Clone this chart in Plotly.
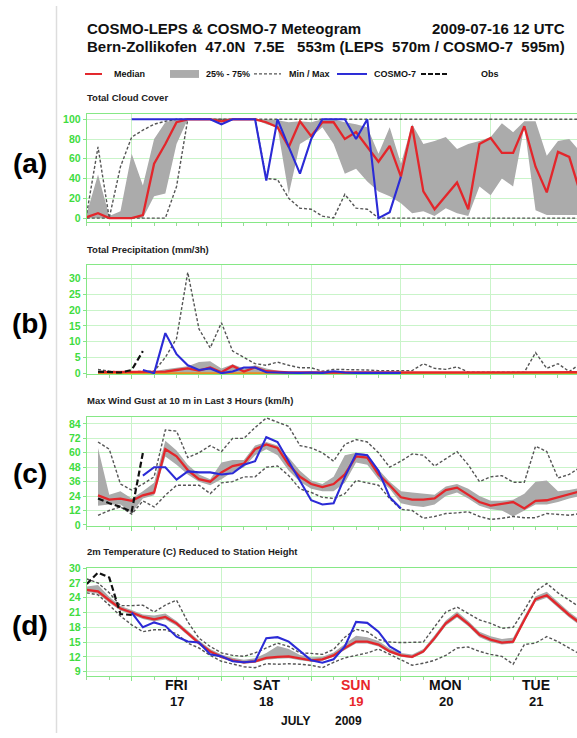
import plotly.graph_objects as go

# ---------------- data (3-hourly steps, hours after 2009-07-16 12 UTC) ----------------
HOURS = list(range(0, 133, 3))
DAY_LINES = [12, 36, 60, 84, 108, 132]
DAY_NOON = [24, 48, 72, 96, 120]
DAY_NAMES = ["FRI", "SAT", "SUN", "MON", "TUE"]
DAY_NUMS = ["17", "18", "19", "20", "21"]
DAY_COLORS = ["#111111", "#111111", "#e8262a", "#111111", "#111111"]

# (a) Total cloud cover (%)
cloud_med = [1, 5, 0, 0, 0, 3, 55, 75, 97, 100, 100, 100, 98, 100, 100, 100, 97, 92, 72, 98, 83, 97, 97, 80, 87,
             72, 57, 73, 42, 93, 27, 9, 22, 36, 9, 75, 81, 66, 66, 93, 52, 26, 67, 62, 25]
cloud_q25 = [0, 0, 0, 0, 0, 0, 22, 25, 75, 100, 100, 100, 97, 100, 100, 100, 95, 92, 24, 75, 82, 92, 75, 45, 50,
             37, 27, 22, 15, 5, 7, 2, 10, 5, 2, 32, 23, 40, 32, 93, 8, 3, 3, 3, 3]
cloud_q75 = [5, 44, 2, 7, 65, 33, 80, 97, 100, 100, 100, 100, 100, 100, 100, 100, 100, 99, 97, 98, 97, 100, 100, 97,
             95, 92, 65, 92, 55, 95, 75, 78, 82, 70, 75, 78, 82, 96, 87, 98, 98, 63, 78, 80, 67]
cloud_min = [0, 0, 0, 0, 0, 0, 0, 0, 32, 100, 100, 100, 100, 100, 100, 100, 40, 39, 20, 10, 9, 2, 0, 24, 10, 9,
             0, 0, 0, 0, 0, 0, 0, 0, 0, 0, 0, 0, 0, 0, 0, 0, 0, 0, 0]
cloud_max = [5, 72, 0, 52, 82, 89, 95, 98, 100, 100, 100, 100, 100, 100, 100, 100, 100, 100, 100, 100, 100, 100,
             100, 100, 100, 100, 100, 100, 100, 100, 100, 100, 100, 100, 100, 100, 100, 100, 100, 100, 100, 100,
             100, 100, 100]
cloud_c7 = [None, None, None, None, 100, 100, 100, 100, 100, 100, 100, 100, 95, 100, 100, 100, 38, 100, 72, 45,
            80, 100, 100, 100, 80, 100, 0, 6, 42, None, None, None, None, None, None, None, None, None, None,
            None, None, None, None, None, None]
cloud_obs = [None] * 45

# (b) Total precipitation (mm/3h)
prec_med = [None, 0.3, 0.3, 0.3, 0.3, 0.3, 0.3, 0.5, 1.0, 1.5, 0.8, 1.8, 0.3, 2.3, 0.5, 1.8, 0.6, 0.3, 0.2, 0.2,
            0.2, 0.2, 0.2, 0.2, 0.2, 0.2, 0.2, 0.2, 0.2, 0.2, 0.2, 0.2, 0.2, 0.2, 0.2, 0.2, 0.3, 0.3, 0.3, 0.3,
            0.3, 0.3, 0.3, 0.3, 0.3]
prec_q25 = [None, 0, 0, 0, 0, 0, 0, 0, 0, 0, 0, 0, 0, 0, 0, 0, 0, 0, 0, 0, 0, 0, 0, 0, 0, 0, 0, 0, 0, 0, 0, 0,
            0, 0, 0, 0, 0, 0, 0, 0, 0, 0, 0, 0, 0]
prec_q75 = [None, 0.6, 0.6, 0.6, 0.6, 0.6, 0.6, 1.2, 1.8, 2.2, 3.5, 3.8, 1.5, 2.8, 1.5, 2.5, 1.5, 0.8, 0.4, 0.4,
            0.4, 0.4, 0.4, 0.4, 0.4, 0.4, 0.4, 0.4, 0.4, 0.4, 0.4, 0.4, 0.4, 0.4, 0.4, 0.4, 0.4, 0.4, 0.4, 0.4,
            0.4, 0.4, 0.4, 0.4, 0.4]
prec_min = [None, 0, 0, 0, 0, 0, 0, 0, 0, 0, 0, 0, 0, 0, 0, 0, 0, 0, 0, 0, 0, 0, 0, 0, 0, 0, 0, 0, 0, 0, 0, 0,
            0, 0, 0, 0, 0, 0, 0, 0, 0, 0, 0, 0, 0]
prec_max = [None, 1.2, 0.6, 0.4, 0.5, 0.6, 0.6, 5, 11, 32, 14, 8, 16, 7, 5, 3, 2.5, 3.5, 2.5, 1.7, 1.7, 0.6,
            1.2, 1.2, 1.2, 1.0, 0.8, 0.8, 0.8, 0.8, 3.0, 1.5, 1.2, 2.0, 0.3, 0.3, 0.3, 0.3, 0.3, 0.3, 6.5, 1.5,
            3.0, 0.5, 3.0]
prec_c7 = [None, None, None, None, None, 1.0, 0.0, 12.7, 6.0, 2.5, 1.0, 1.5, 0.0, 0.5, 1.8, 1.8, 0.3, 0.2, 0.1,
           0.1, 0.2, 0.1, 0.6, 0.2, 0.1, 0.1, 0.1, 0.1, 0.1, None, None, None, None, None, None, None, None,
           None, None, None, None, None, None, None, None]
prec_obs = [None, 0.5, 0.3, 0.2, 1.0, 7.0] + [None] * 39

# (c) Max wind gust in last 3 hours (km/h)
wind_med = [None, 24.6, 21, 21.8, 20, 24.6, 27, 63, 57, 45.6, 38, 36, 43.7, 49, 51, 63, 67, 64, 50, 40, 34, 31.4,
            34, 42, 57, 56, 42, 33, 23, 21, 21, 22, 29, 31, 25, 19, 16, 17.5, 19, 13.7, 20, 20.5, 23, 26, 28]
wind_q25 = [None, 16, 17, 17, 10, 22, 24.6, 57, 50, 42, 36, 33, 38, 44, 48, 58, 63, 58, 45, 36, 30, 28, 28, 35,
            52, 50, 38, 30, 18, 16, 15, 17, 24, 27, 22, 16, 13, 12, 7, 12, 17, 17, 19, 22, 24]
wind_q75 = [None, 64, 25, 28, 22, 28, 35, 70, 62, 50, 42, 38, 52, 54, 54, 66, 69, 66, 56, 45, 37, 34, 40, 58, 60,
            59, 46, 36, 28, 27, 26, 25, 32, 34, 30, 24, 20, 20, 21, 26, 36, 37, 28, 29, 31]
wind_min = [None, 8, 12, 15, 9, 20, 15, 24.6, 33, 33, 33, 26, 35, 36, 40, 40, 48, 49, 41, 30, 27, 23, 22, 26, 37,
            35, 33, 22, 13, 12, 5.5, 7, 9.5, 10, 11, 7, 4.6, 5.5, 7, 6, 6, 9.5, 9, 8, 9.5]
wind_max = [None, 69, 63, 34, 29, 34, 40, 79, 78, 56, 60, 66, 61, 72, 72, 81, 89, 85.5, 82, 66, 64, 60, 53, 67,
            71, 69, 60, 48, 53, 59, 58, 49, 55, 61, 50, 36, 40, 41, 35.5, 35.5, 65.5, 61, 39, 42, 48]
wind_c7 = [None, None, None, None, None, 41, 48, 48, 37.7, 44.5, 43.7, 43.7, 42, 43, 50, 53, 73, 69, 53, 37, 20.5,
           17, 18, 40, 59, 58, 45, 23, 13.7, None, None, None, None, None, None, None, None, None, None, None,
           None, None, None, None, None]
wind_obs = [None, 22, 18, 15, 11, 60] + [None] * 39

# (d) 2m temperature (C)
temp_med = [25.6, 25.3, 23.5, 21.8, 21.0, 20.1, 19.6, 20.1, 18.8, 16.8, 14.8, 13.1, 12.0, 11.3, 10.9, 11.1, 11.8,
            12.0, 12.1, 11.7, 11.3, 11.5, 12.3, 13.8, 15.1, 15.1, 14.5, 13.1, 12.3, 12.0, 13.1, 15.8, 18.8, 20.5,
            18.7, 16.5, 15.5, 14.9, 15.1, 19.5, 23.7, 24.5, 22.5, 20.5, 18.8]
temp_q25 = [25.2, 24.8, 23.0, 21.4, 20.6, 19.7, 19.2, 19.6, 18.3, 16.3, 14.4, 12.8, 11.7, 11.0, 10.6, 10.8, 11.4,
            11.6, 11.7, 11.3, 11.0, 11.2, 12.0, 13.4, 14.7, 14.7, 14.1, 12.8, 12.0, 11.7, 12.8, 15.3, 18.3, 20.0,
            18.2, 16.0, 15.0, 14.5, 14.7, 19.0, 23.2, 24.0, 22.0, 20.0, 18.3]
temp_q75 = [26.3, 26.6, 24.2, 22.3, 21.5, 20.6, 20.4, 20.8, 19.3, 17.3, 15.3, 13.6, 12.5, 11.8, 11.4, 11.7, 12.8,
            14.2, 13.6, 12.4, 11.9, 12.0, 12.9, 14.6, 16.3, 16.0, 15.2, 13.7, 12.8, 12.5, 13.6, 16.4, 19.4, 21.2,
            19.3, 17.1, 16.2, 15.6, 15.9, 20.2, 24.3, 25.2, 23.1, 21.1, 19.4]
temp_min = [25.0, 24.6, 22.5, 20.3, 18.5, 17.1, 17.5, 17.5, 16.7, 14.8, 13.8, 12.3, 11.1, 10.5, 10.0, 9.8, 10.6,
            10.5, 10.6, 10.5, 10.3, 9.8, 10.9, 11.8, 12.3, 12.8, 13.6, 12.5, 11.3, 10.3, 10.7, 11.3, 12.3, 13.8,
            14.0, 13.1, 12.5, 12.1, 10.5, 14.5, 14.8, 16.1, 15.1, 13.8, 12.5]
temp_max = [27.8, 27.0, 25.0, 22.4, 22.4, 22.5, 21.1, 22.5, 23.5, 19.1, 15.8, 14.1, 12.8, 12.3, 12.1, 12.8, 13.8,
            14.8, 14.1, 12.8, 12.7, 12.5, 13.5, 16.0, 17.6, 17.1, 15.5, 15.0, 14.9, 14.9, 15.0, 18.1, 21.1, 22.1,
            20.8, 19.5, 18.8, 17.8, 18.0, 21.5, 25.3, 26.9, 25.0, 23.5, 22.0]
temp_c7 = [None, None, None, None, 21.0, 18.0, 19.0, 18.3, 16.1, 15.1, 14.9, 12.5, 12.1, 11.1, 10.9, 11.1, 15.8,
           16.0, 15.1, 13.1, 11.3, 10.8, 11.5, 14.1, 19.1, 18.9, 17.1, 14.1, 12.8, None, None, None, None, None,
           None, None, None, None, None, None, None, None, None, None, None]
temp_obs = [26.8, 29.1, 28.1, 20.7, 20.5] + [None] * 40

PANEL_TITLES = ["Total Cloud Cover", "Total Precipitation (mm/3h)",
                "Max Wind Gust at 10 m in Last 3 Hours (km/h)", "2m Temperature (C) Reduced to Station Height"]
PANEL_LETTERS = ["(a)", "(b)", "(c)", "(d)"]
Y_TICKS = [[0, 20, 40, 60, 80, 100], [0, 5, 10, 15, 20, 25, 30],
           [0, 12, 24, 36, 48, 60, 72, 84], [9, 12, 15, 18, 21, 24, 27, 30]]
Y_RANGES = [[-4.2, 105], [-0.25, 34.2], [-0.6, 89.7], [8.14, 30.14]]

LEGEND_LABELS = ["Median", "25% - 75%", "Min / Max", "COSMO-7", "Obs"]

# ---------------- styling / geometry ----------------
W, H = 577, 738
FONT = "Liberation Sans, Arial, sans-serif"
RED, BLUE, GRAY_BAND, DASH_GRAY = "#e3262b", "#2b2bd6", "#ababab", "#555555"
FRAME, GRID, TICKLBL = "#86e886", "#c9f4c9", "#3fdc3f"
X0 = 86.8
X_END = (W - X0) / (89.75 / 24.0)
PANEL_PX = [(110, 219.5), (263.3, 373.5), (417.3, 527.5), (570, 680)]  # top, bottom in px


def py(v):  # pixel y -> paper
    return 1 - v / H


def px(v):
    return v / W


fig = go.Figure()

panels = [
    (cloud_med, cloud_q25, cloud_q75, cloud_min, cloud_max, cloud_c7, cloud_obs),
    (prec_med, prec_q25, prec_q75, prec_min, prec_max, prec_c7, prec_obs),
    (wind_med, wind_q25, wind_q75, wind_min, wind_max, wind_c7, wind_obs),
    (temp_med, temp_q25, temp_q75, temp_min, temp_max, temp_c7, temp_obs),
]

for i, (med, q25, q75, mn, mx, c7, obs) in enumerate(panels):
    k = i + 1
    xa, ya = ("x" if k == 1 else f"x{k}"), ("y" if k == 1 else f"y{k}")
    bx = [h for h, a, b in zip(HOURS, q25, q75) if a is not None and b is not None]
    blo = [a for a, b in zip(q25, q75) if a is not None and b is not None]
    bhi = [b for a, b in zip(q25, q75) if a is not None and b is not None]
    fig.add_trace(go.Scatter(x=bx, y=blo, mode="lines", line=dict(width=0, color=GRAY_BAND),
                             xaxis=xa, yaxis=ya, showlegend=False, hoverinfo="skip"))
    fig.add_trace(go.Scatter(x=bx, y=bhi, mode="lines", line=dict(width=0, color=GRAY_BAND),
                             fill="tonexty", fillcolor=GRAY_BAND,
                             xaxis=xa, yaxis=ya, showlegend=False, hoverinfo="skip"))
    if k == 2:
        fig.add_trace(go.Scatter(x=HOURS, y=mn, mode="lines", line=dict(width=2, color="#e8901c"),
                                 xaxis=xa, yaxis=ya, showlegend=False))
    else:
        fig.add_trace(go.Scatter(x=HOURS, y=mn, mode="lines",
                                 line=dict(width=1.4, color=DASH_GRAY, dash="3px,2px"),
                                 xaxis=xa, yaxis=ya, showlegend=False))
    fig.add_trace(go.Scatter(x=HOURS, y=mx, mode="lines",
                             line=dict(width=1.4, color=DASH_GRAY, dash="3px,2px"),
                             xaxis=xa, yaxis=ya, showlegend=False))
    fig.add_trace(go.Scatter(x=HOURS, y=med, mode="lines", line=dict(width=2.3, color=RED),
                             xaxis=xa, yaxis=ya, showlegend=False))
    fig.add_trace(go.Scatter(x=HOURS, y=c7, mode="lines", line=dict(width=2.1, color=BLUE),
                             xaxis=xa, yaxis=ya, showlegend=False))
    fig.add_trace(go.Scatter(x=HOURS, y=obs, mode="lines",
                             line=dict(width=2.2, color="#111111", dash="6px,3px"),
                             xaxis=xa, yaxis=ya, showlegend=False))

    top, bot = PANEL_PX[i]
    xkey = "xaxis" if k == 1 else f"xaxis{k}"
    ykey = "yaxis" if k == 1 else f"yaxis{k}"
    fig.layout[xkey] = dict(
        domain=[px(X0), 1.0], range=[0, X_END], anchor=ya,
        showline=True, mirror=True, linecolor=FRAME, linewidth=1.2,
        showgrid=True, gridcolor=GRID, gridwidth=1,
        tickmode="array", tickvals=DAY_LINES, showticklabels=False,
        ticks="outside", ticklen=4, tickcolor=FRAME,
        minor=dict(tick0=0, dtick=6, ticks="outside", ticklen=3, tickcolor="#9ad89a", showgrid=False),
        zeroline=False, fixedrange=True,
    )
    fig.layout[ykey] = dict(
        domain=[py(bot), py(top)], range=Y_RANGES[i], anchor=xa,
        showline=True, mirror=False, linecolor=FRAME, linewidth=1.2,
        showgrid=True, gridcolor=GRID, gridwidth=1,
        tickmode="array", tickvals=Y_TICKS[i],
        ticks="outside", ticklen=3, tickcolor=FRAME,
        tickfont=dict(family=FONT, size=10.5, color=TICKLBL, weight="bold"),
        zeroline=False, fixedrange=True,
    )

annotations = []
shapes = []

# header
annotations.append(dict(text="<b>COSMO-LEPS & COSMO-7 Meteogram</b>", x=px(85), y=py(23), xref="paper", yref="paper",
                        xanchor="left", yanchor="middle", showarrow=False,
                        font=dict(family=FONT, size=15, color="#111111")))
annotations.append(dict(text="<b>2009-07-16 12 UTC</b>", x=px(567), y=py(23), xref="paper", yref="paper",
                        xanchor="right", yanchor="middle", showarrow=False,
                        font=dict(family=FONT, size=15, color="#111111")))
line2 = "Bern-Zollikofen\u00a0\u00a047.0N\u00a0\u00a07.5E\u00a0\u00a0\u00a0553m (LEPS\u00a0\u00a0570m / COSMO-7\u00a0\u00a0595m)"
annotations.append(dict(text=f"<b>{line2}</b>", x=px(85), y=py(41), xref="paper", yref="paper",
                        xanchor="left", yanchor="middle", showarrow=False,
                        font=dict(family=FONT, size=15, color="#111111")))

# legend row
LEG_Y = 69
legend_text_x = [112, 204, 287, 372, 479]
for lbl, lx in zip(LEGEND_LABELS, legend_text_x):
    annotations.append(dict(text=f"<b>{lbl}</b>", x=px(lx), y=py(LEG_Y), xref="paper", yref="paper",
                            xanchor="left", yanchor="middle", showarrow=False,
                            font=dict(family=FONT, size=9, color="#111111")))
shapes.append(dict(type="line", xref="paper", yref="paper", x0=px(85), x1=px(102), y0=py(LEG_Y), y1=py(LEG_Y),
                   line=dict(color=RED, width=2)))
shapes.append(dict(type="rect", xref="paper", yref="paper", x0=px(170), x1=px(199), y0=py(LEG_Y + 4),
                   y1=py(LEG_Y - 4), fillcolor=GRAY_BAND, line=dict(width=0)))
shapes.append(dict(type="line", xref="paper", yref="paper", x0=px(254), x1=px(281), y0=py(LEG_Y), y1=py(LEG_Y),
                   line=dict(color=DASH_GRAY, width=1.2, dash="3px,2px")))
shapes.append(dict(type="line", xref="paper", yref="paper", x0=px(337), x1=px(367), y0=py(LEG_Y), y1=py(LEG_Y),
                   line=dict(color=BLUE, width=2)))
shapes.append(dict(type="line", xref="paper", yref="paper", x0=px(421), x1=px(447), y0=py(LEG_Y), y1=py(LEG_Y),
                   line=dict(color="#111111", width=2, dash="5px,2px")))

# panel titles and letters
TITLE_Y = [93, 247, 400, 554]
LETTER_Y = [160, 322, 475, 629]
for i in range(4):
    annotations.append(dict(text=f"<b>{PANEL_TITLES[i]}</b>", x=px(85), y=py(TITLE_Y[i]), xref="paper",
                            yref="paper", xanchor="left", yanchor="middle", showarrow=False,
                            font=dict(family=FONT, size=9.5, color="#222222")))
    annotations.append(dict(text=f"<b>{PANEL_LETTERS[i]}</b>", x=px(30), y=py(LETTER_Y[i]), xref="paper",
                            yref="paper", xanchor="center", yanchor="middle", showarrow=False,
                            font=dict(family=FONT, size=28, color="#000000")))

# day labels under panel (d)
for name, num, noon, col in zip(DAY_NAMES, DAY_NUMS, DAY_NOON, DAY_COLORS):
    annotations.append(dict(text=f"<b>{name}</b>", x=noon, y=py(689), xref="x4", yref="paper",
                            xanchor="center", yanchor="middle", showarrow=False,
                            font=dict(family=FONT, size=14, color=col)))
    annotations.append(dict(text=f"<b>{num}</b>", x=noon, y=py(706), xref="x4", yref="paper",
                            xanchor="center", yanchor="middle", showarrow=False,
                            font=dict(family=FONT, size=13, color=col)))
annotations.append(dict(text="<b>JULY</b>", x=px(296), y=py(726), xref="paper", yref="paper",
                        xanchor="center", yanchor="middle", showarrow=False,
                        font=dict(family=FONT, size=12, color="#111111")))
annotations.append(dict(text="<b>2009</b>", x=px(348), y=py(726), xref="paper", yref="paper",
                        xanchor="center", yanchor="middle", showarrow=False,
                        font=dict(family=FONT, size=12, color="#111111")))

# thin grey page border on the left
shapes.append(dict(type="line", xref="paper", yref="paper", x0=px(56.5), x1=px(56.5), y0=0, y1=1,
                   line=dict(color="#dddddd", width=1.5)))

fig.update_layout(
    width=W, height=H, autosize=False,
    margin=dict(l=0, r=0, t=0, b=0),
    paper_bgcolor="white", plot_bgcolor="white",
    showlegend=False,
    annotations=annotations, shapes=shapes,
    font=dict(family=FONT),
)

fig.write_html("out.html")
